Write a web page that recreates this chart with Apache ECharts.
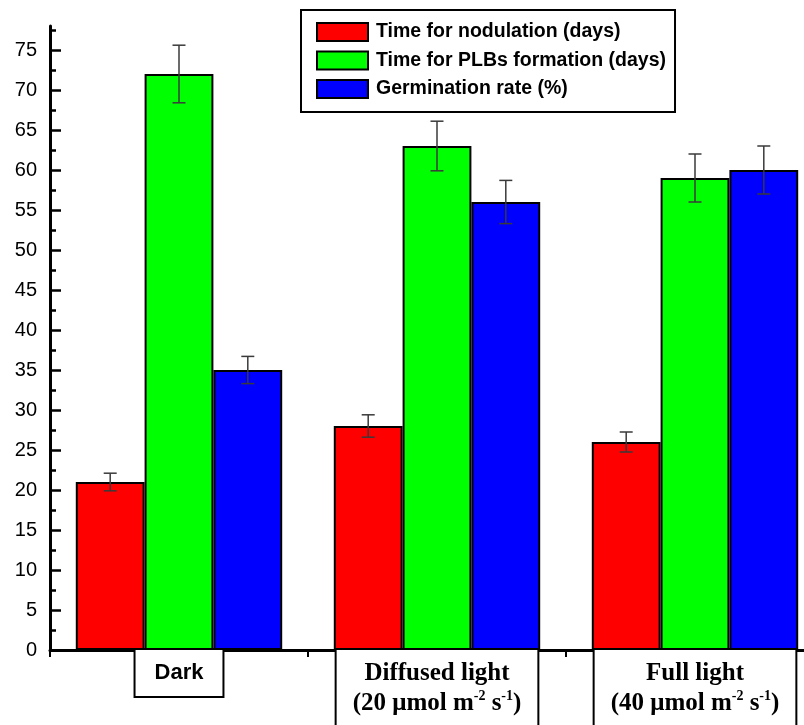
<!DOCTYPE html>
<html>
<head>
<meta charset="utf-8">
<script src="https://cdn.jsdelivr.net/npm/echarts@6/dist/echarts.min.js"></script>
<style>html,body{margin:0;padding:0;background:#fff;}#c{width:804px;height:725px;}</style>
</head>
<body>
<div id="c"></div>
<script>
const categories = ['Dark', 'Diffused light', 'Full light'];
const seriesNames = ['Time for nodulation (days)', 'Time for PLBs formation (days)', 'Germination rate (%)'];
const nodulation = [21, 28, 26];
const nodulationErr = [1.1, 1.4, 1.25];
const plbs = [72, 63, 59];
const plbsErr = [3.6, 3.1, 3.0];
const germination = [35, 56, 60];
const germinationErr = [1.7, 2.7, 3.0];
const yTicks = [0, 5, 10, 15, 20, 25, 30, 35, 40, 45, 50, 55, 60, 65, 70, 75];
const yMinorTicks = [2.5, 7.5, 12.5, 17.5, 22.5, 27.5, 32.5, 37.5, 42.5, 47.5, 52.5, 57.5, 62.5, 67.5, 72.5, 77.5];
const colors = ['#ff0000', '#00ff00', '#0000ff'];

const chart = echarts.init(document.getElementById('c'), null, {renderer: 'canvas'});

function barSeries(name, data, color) {
  return {
    name: name, type: 'bar', data: data, barGap: '0%', barCategoryGap: '20%',
    itemStyle: {color: color, borderColor: '#000', borderWidth: 2},
    emphasis: {disabled: true}
  };
}

function errSeries(vals, errs, k) {
  return {
    type: 'custom', name: 'err' + k, z: 10,
    data: vals.map((v, i) => [i, v, errs[i]]),
    encode: {x: 0, y: 1},
    renderItem: function (params, api) {
      const i = api.value(0), v = api.value(1), e = api.value(2);
      const band = api.size([1, 0])[0];
      const bw = band * 0.8 / 3;
      const cx = api.coord([i, v])[0] + (k - 1) * bw;
      const yt = api.coord([i, v + e])[1];
      const yb = api.coord([i, v - e])[1];
      const cap = 6.5;
      const st = {stroke: '#3a3a3a', lineWidth: 1.5};
      return {
        type: 'group',
        children: [
          {type: 'line', shape: {x1: cx, y1: yt, x2: cx, y2: yb}, style: st},
          {type: 'line', shape: {x1: cx - cap, y1: yt, x2: cx + cap, y2: yt}, style: st},
          {type: 'line', shape: {x1: cx - cap, y1: yb, x2: cx + cap, y2: yb}, style: st}
        ]
      };
    }
  };
}

const option = {
  animation: false,
  backgroundColor: '#fff',
  grid: {left: 50, width: 774, top: 26, height: 624, containLabel: false, outerBoundsMode: 'none'},
  legend: {
    data: seriesNames,
    orient: 'vertical',
    left: 301, top: 10,
    itemWidth: 51, itemHeight: 18, itemGap: 8.5,
    icon: 'rect',
    padding: [12, 9, 13, 15],
    borderColor: '#000', borderWidth: 2,
    textStyle: {fontFamily: 'Liberation Sans, Arial, sans-serif', fontWeight: 'bold', fontSize: 19.5, color: '#000', lineHeight: 18, padding: [0, 0, 0, 3]},
    itemStyle: {borderColor: '#000', borderWidth: 2},
    selectedMode: false
  },
  xAxis: {
    type: 'category',
    data: categories,
    axisLine: {lineStyle: {color: '#000', width: 3}},
    axisTick: {show: true, alignWithLabel: false, length: 7, lineStyle: {color: '#000', width: 2}},
    axisLabel: {
      interval: 0, margin: 0,
      borderColor: '#000', borderWidth: 2, padding: [9, 16, 9, 16],
      color: '#000',
      backgroundColor: '#fff',
      formatter: function (value, idx) {
        if (idx === 0) return '{d|' + value + '}';
        const v = idx === 1 ? '20' : '40';
        return '{t|' + value + '}\n{t|(' + v + ' μmol m}{sup|-2}{t| s}{sup|-1}{t|)}';
      },
      rich: {
        d: {fontFamily: 'Liberation Sans, Arial, sans-serif', fontWeight: 'bold', fontSize: 22, color: '#000', lineHeight: 28, padding: [0, 3, 0, 3]},
        t: {fontFamily: 'Liberation Serif, Times New Roman, serif', fontWeight: 'bold', fontSize: 25, color: '#000', lineHeight: 30},
        sup: {fontFamily: 'Liberation Serif, Times New Roman, serif', fontWeight: 'bold', fontSize: 14, color: '#000', verticalAlign: 'top', lineHeight: 16}
      }
    }
  },
  yAxis: [
    {
      type: 'value', min: 0, max: 78, interval: 5,
      axisLine: {show: true, lineStyle: {color: '#000', width: 3}},
      axisTick: {show: true, inside: true, length: 11, customValues: yTicks, lineStyle: {color: '#000', width: 2.5}},
      axisLabel: {customValues: yTicks, margin: 13, color: '#000', fontSize: 20, fontFamily: 'Liberation Sans, Arial, sans-serif'},
      splitLine: {show: false}
    },
    {
      type: 'value', min: 0, max: 78, interval: 5, position: 'left',
      axisLine: {show: false},
      axisTick: {show: true, inside: true, length: 6, customValues: yMinorTicks, lineStyle: {color: '#000', width: 2.5}},
      axisLabel: {show: false},
      splitLine: {show: false}
    }
  ],
  series: [
    barSeries(seriesNames[0], nodulation, colors[0]),
    barSeries(seriesNames[1], plbs, colors[1]),
    barSeries(seriesNames[2], germination, colors[2]),
    errSeries(nodulation, nodulationErr, 0),
    errSeries(plbs, plbsErr, 1),
    errSeries(germination, germinationErr, 2)
  ]
};
chart.setOption(option);
</script>
</body>
</html>
